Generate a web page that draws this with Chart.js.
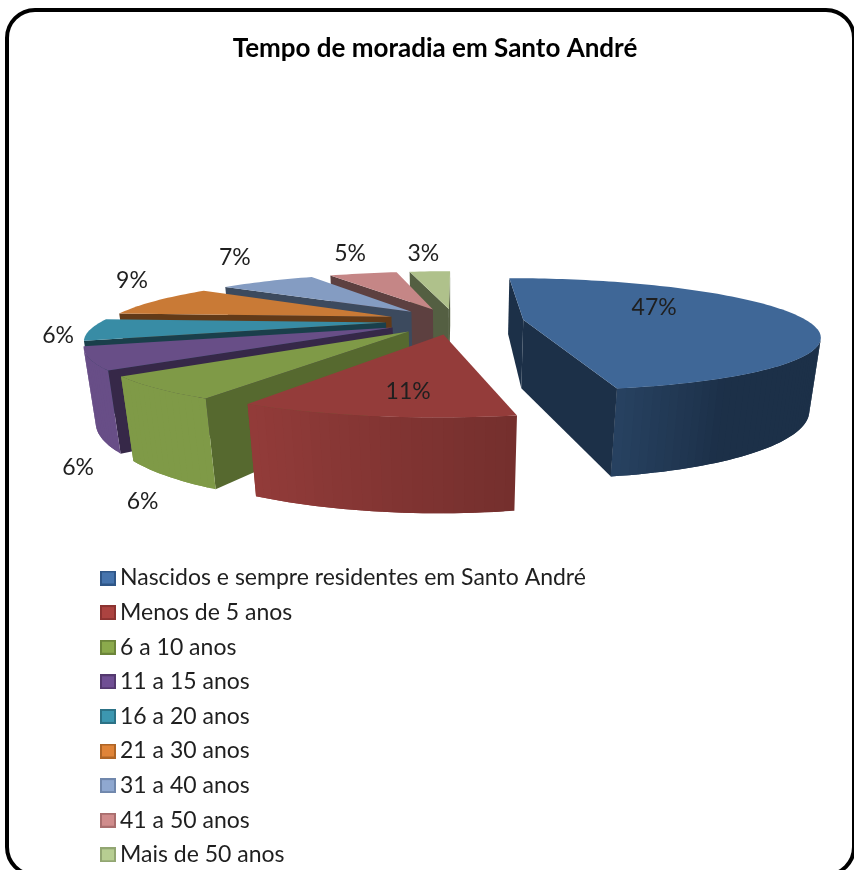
<!DOCTYPE html>
<html lang="pt">
<head>
<meta charset="utf-8">
<title>Tempo de moradia em Santo André</title>
<script src="https://cdn.jsdelivr.net/npm/chart.js@4/dist/chart.umd.min.js"></script>
<style>
html,body{margin:0;padding:0;background:#fff;width:854px;height:870px;overflow:hidden}
#frame{position:absolute;left:5px;top:8px;width:843px;height:861px;border:4px solid #000;border-radius:30px}
#c{position:absolute;left:0;top:0;filter:blur(.45px)}
</style>
</head>
<body>
<div id="frame"></div>
<canvas id="c" width="854" height="870"></canvas>
<script>
const titleText = 'Tempo de moradia em Santo André';
const categories = ['Nascidos e sempre residentes em Santo André','Menos de 5 anos','6 a 10 anos','11 a 15 anos','16 a 20 anos','21 a 30 anos','31 a 40 anos','41 a 50 anos','Mais de 50 anos'];
const values = [47,11,6,6,6,9,7,5,3];
const topColors = ['#3F6797','#943C3A','#7F9A47','#684E87','#388CA5','#C97A36','#849CC2','#C58686','#AFC18B'];
const darkColors = ['#1C3048','#652927','#56692F','#362848','#1A3F4B','#623A18','#3C4A5E','#5D4040','#545F42'];
const legendFill = ['#4674AD','#AC4340','#8BAA4C','#704F94','#3C97B0','#E08438','#8FA8D0','#D08C8C','#B7CE92'];
const legendEdge = ['#2F5687','#8C3331','#6C853A','#54396F','#2C7286','#AF6526','#7087AC','#A96E6E','#92A672'];
const labelNudge = [[-142,-7],[34,-25],[-13.5,113],[-11,109],[-32,6],[-23.5,-20],[-32,-24],[-13,-20],[-6.5,-18]];

const FONT = 'Lato, "Open Sans", sans-serif';
const cam = {vx:455, hy:116, topH:205, botH:282, d:1100, dw:.03, R:284, explode:69};

function project(X,Y,bottom){
  const w = 1 + Y/cam.d + (bottom ? cam.dw : 0);
  return {x: cam.vx + X/w, y: cam.hy + (bottom ? cam.botH : cam.topH)/w};
}
function hex(c){return [1,3,5].map(i=>parseInt(c.substr(i,2),16));}
function mix(a,b,t){const A=hex(a),B=hex(b);return 'rgb('+A.map((v,i)=>Math.round(v+(B[i]-v)*t)).join(',')+')';}
function clamp(v){return Math.max(0,Math.min(1,v));}

function sliceOutline(arc){
  const a0 = arc.startAngle + Math.PI/2, a1 = arc.endAngle + Math.PI/2, mid=(a0+a1)/2;
  const cx = cam.explode*Math.sin(mid), cy = cam.explode*Math.cos(mid);
  const pts=[{X:cx,Y:cy,centre:true}];
  const n = Math.max(2,Math.ceil((a1-a0)/(Math.PI/120)));
  for(let i=0;i<=n;i++){
    const a=a0+(a1-a0)*i/n;
    pts.push({X:cx+cam.R*Math.sin(a),Y:cy+cam.R*Math.cos(a),deg:a*180/Math.PI});
  }
  return {pts,cy,mid};
}
function area(q){let s=0;q.forEach((p,i)=>{const r=q[(i+1)%q.length];s+=p.x*r.y-r.x*p.y;});return s/2;}
function fillPoly(ctx,q,col){
  ctx.beginPath();q.forEach((p,m)=>m?ctx.lineTo(p.x,p.y):ctx.moveTo(p.x,p.y));ctx.closePath();
  ctx.fillStyle=col;ctx.fill();
}

const pie3d = {
  id:'pie3d',
  beforeDatasetsDraw(chart){
    const ctx=chart.ctx, arcs=chart.getDatasetMeta(0).data;
    const order=arcs.map((arc,i)=>({i,...sliceOutline(arc)})).sort((a,b)=>b.cy-a.cy);
    order.forEach(s=>{
      const top=s.pts.map(p=>project(p.X,p.Y,false)), bot=s.pts.map(p=>project(p.X,p.Y,true));
      const n=top.length;
      for(let k=0;k<n;k++){
        const j=(k+1)%n, quad=[top[k],top[j],bot[j],bot[k]];
        if(area(quad)>=0) continue;
        const isRim=!s.pts[k].centre && !s.pts[j].centre;
        const t=isRim?clamp((210-(s.pts[k].deg+s.pts[j].deg)/2)/60):1;
        const col=mix(topColors[s.i],darkColors[s.i],t);
        const e=(j+1)%n;
        const strip=(isRim && !s.pts[e].centre)?[top[k],top[j],top[e],bot[e],bot[j],bot[k]]:quad;
        fillPoly(ctx,strip,col);
      }
      fillPoly(ctx,top,topColors[s.i]);
    });
    ctx.save();
    ctx.font='23px '+FONT;ctx.fillStyle='#1f1f1f';ctx.textAlign='center';ctx.textBaseline='middle';
    arcs.forEach((arc,i)=>{
      const m=(arc.startAngle+arc.endAngle)/2+Math.PI/2, rr=cam.explode+cam.R;
      const p=project(rr*Math.sin(m),rr*Math.cos(m),false);
      ctx.fillText(values[i]+'%',p.x+labelNudge[i][0],p.y+labelNudge[i][1]);
    });
    ctx.restore();
    return false;
  },
  afterLayout(chart){
    const L=chart.legend, pad=L.options.labels.padding;
    L.left=107.5-pad; L.right=L.left+640; L.width=640;
    L.top=566.5-pad; L.bottom=L.top+500; L.height=500;
    L.adjustHitBoxes && L.adjustHitBoxes();
    chart.titleBlock.left+=8; chart.titleBlock.right+=8;
  }
};

function swatch(fill,edge){
  const c=document.createElement('canvas');c.width=16;c.height=15;
  const g=c.getContext('2d');g.fillStyle=edge;g.fillRect(0,0,16,15);g.fillStyle=fill;g.fillRect(2,2,12,11);
  return c;
}

new Chart(document.getElementById('c'),{
  type:'pie',
  plugins:[pie3d],
  data:{labels:categories,datasets:[{data:values,backgroundColor:legendFill,borderColor:legendEdge,borderWidth:2}]},
  options:{
    responsive:false,animation:false,
    plugins:{
      tooltip:{enabled:false},
      title:{display:true,text:titleText,color:'#000',padding:{top:33,bottom:10},font:{family:FONT,size:26,weight:'bold'}},
      legend:{
        display:true,position:'left',align:'start',
        labels:{
          color:'#1f1f1f',font:{family:FONT,size:23},padding:11.6,usePointStyle:true,pointStyleWidth:1,boxHeight:14,
          generateLabels(chart){
            return categories.map((text,i)=>({text,index:i,fillStyle:legendFill[i],strokeStyle:legendEdge[i],lineWidth:0,pointStyle:swatch(legendFill[i],legendEdge[i]),fontColor:'#1f1f1f'}));
          }
        }
      }
    }
  }
});
</script>
</body>
</html>
